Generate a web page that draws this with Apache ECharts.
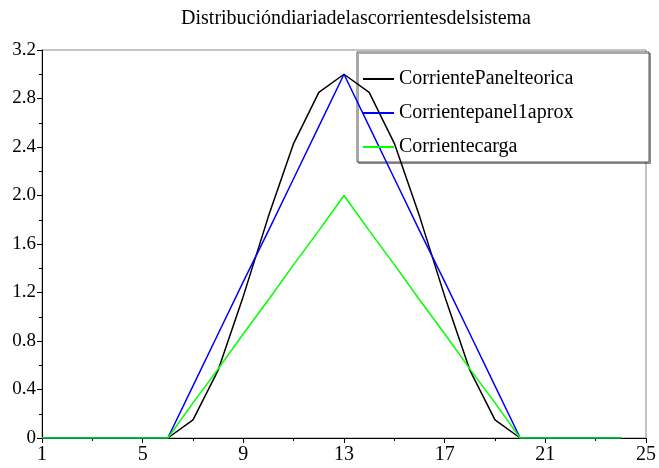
<!DOCTYPE html>
<html>
<head>
<meta charset="utf-8">
<script src="https://cdn.jsdelivr.net/npm/echarts@6/dist/echarts.min.js"></script>
<style>html,body{margin:0;padding:0;background:#fff}#c{width:659px;height:468px}</style>
</head>
<body>
<div id="c"></div>
<script>
var hours = [1,2,3,4,5,6,7,8,9,10,11,12,13,14,15,16,17,18,19,20,21,22,23,24];
var panelTeorica = [0,0,0,0,0,0,0.15,0.56,1.17,1.83,2.43,2.85,3.0,2.85,2.43,1.83,1.17,0.56,0.15,0,0,0,0,0];
var panelAprox = [0,0,0,0,0,0,0.43,0.86,1.29,1.71,2.14,2.57,3.0,2.57,2.14,1.71,1.29,0.86,0.43,0,0,0,0,0];
var carga = [0,0,0,0,0,0,0.29,0.57,0.86,1.14,1.43,1.71,2.0,1.71,1.43,1.14,0.86,0.57,0.29,0,0,0,0,0];
var seriesNames = ['CorrientePanelteorica','Corrientepanel1aprox','Corrientecarga'];
var seriesColors = ['#000000','#0000ff','#00ff00'];
var titleText = 'Distribucióndiariadelascorrientesdelsistema';

function pairs(vals){ return hours.map(function(h,i){ return [h, vals[i]]; }); }
var serif = 'Liberation Serif';
var chart = echarts.init(document.getElementById('c'), null, {renderer:'canvas'});
var allVals = [panelTeorica, panelAprox, carga];
chart.setOption({
  animation:false,
  title:{text:titleText,left:351,top:4,textAlign:'center',textStyle:{fontFamily:serif,fontSize:20,fontWeight:'normal',color:'#000'}},
  grid:{left:42,right:8,top:50,bottom:30,show:true,borderColor:'#888',borderWidth:1,backgroundColor:'transparent'},
  graphic:[{type:'rect',z:0,shape:{x:357,y:52,width:292,height:110},style:{fill:'#fff',stroke:'#555',lineWidth:1,shadowColor:'rgba(0,0,0,0.35)',shadowOffsetX:1.5,shadowOffsetY:1.5,shadowBlur:0}}],
  legend:{orient:'vertical',left:357,top:52,padding:[17,6,5,6],itemGap:14,itemWidth:31,itemHeight:2,icon:'rect',
    data:seriesNames,textStyle:{fontFamily:serif,fontSize:20,color:'#000',lineHeight:20}},
  xAxis:{type:'value',min:1,max:25,interval:4,
    axisLine:{show:true,onZero:false,lineStyle:{color:'#000',width:1}},
    axisTick:{show:true,length:5,lineStyle:{color:'#000'}},
    minorTick:{show:true,splitNumber:2,length:3,lineStyle:{color:'#000'}},
    splitLine:{show:false},
    axisLabel:{margin:7,fontFamily:serif,fontSize:20,color:'#000'}},
  yAxis:{type:'value',min:0,max:3.2,interval:0.4,
    axisLine:{show:true,lineStyle:{color:'#000',width:1}},
    axisTick:{show:true,length:5,lineStyle:{color:'#000'}},
    minorTick:{show:true,splitNumber:2,length:3,lineStyle:{color:'#000'}},
    splitLine:{show:false},
    axisLabel:{margin:6,fontFamily:serif,fontSize:19,color:'#000',formatter:function(v){return v===0?'0':v.toFixed(1);}}},
  series: seriesNames.map(function(n,i){
    return {name:n,type:'line',data:pairs(allVals[i]),showSymbol:false,symbol:'none',z:3,
      lineStyle:{color:seriesColors[i],width:1.5},itemStyle:{color:seriesColors[i]}};
  })
});
</script>
</body>
</html>
